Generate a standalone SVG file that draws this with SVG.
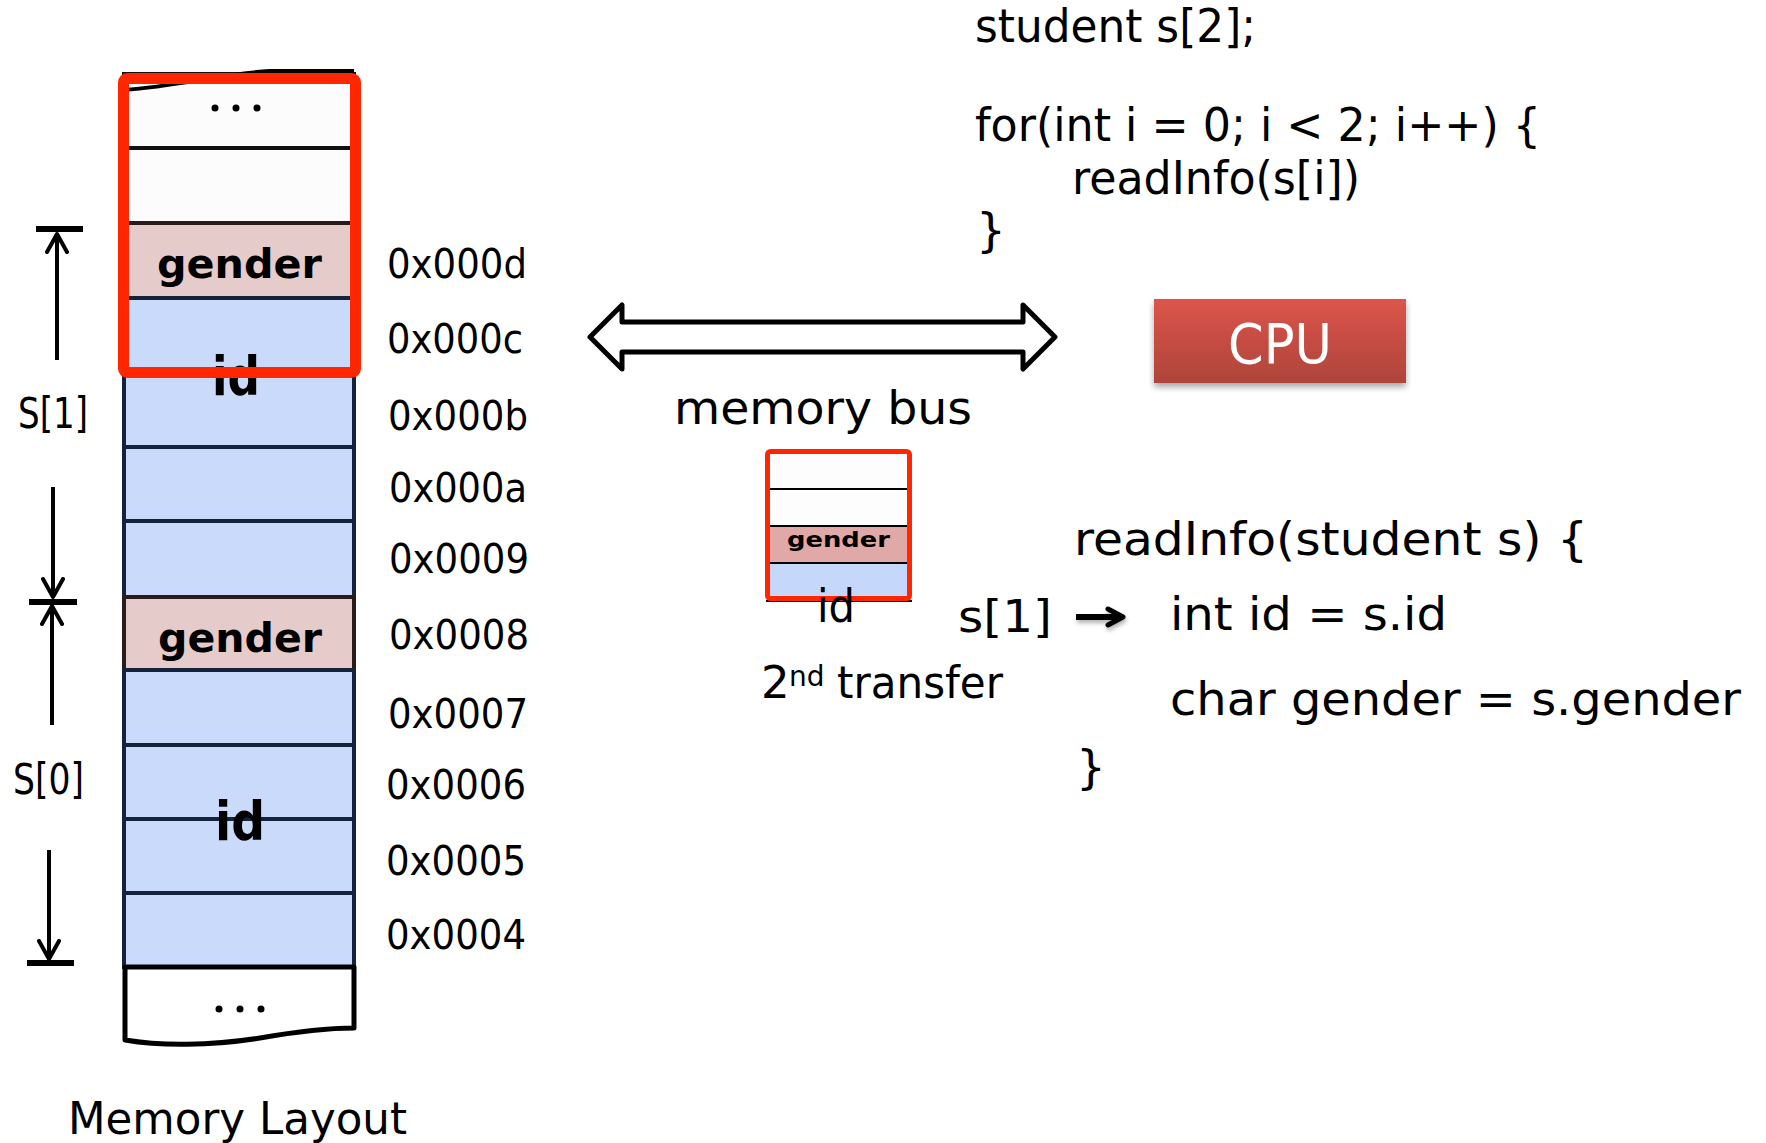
<svg xmlns="http://www.w3.org/2000/svg" width="1766" height="1143" viewBox="0 0 1766 1143">
<style>
  text { font-family: "DejaVu Sans", "Liberation Sans", sans-serif; fill: #000; }
  .addr { font-size: 41px; }
  .bold { font-weight: bold; }
  .code { font-size: 47px; }
  .cell-w { fill: #fcfcfc; stroke: #111; stroke-width: 4; }
  .cell-b { fill: #c9dafa; stroke: #15223c; stroke-width: 4; }
  .cell-g { fill: #e6cbcb; stroke: #2a1a1a; stroke-width: 4; }
  .dim { stroke: #000; stroke-width: 4; fill: none; }
  .bar { stroke: #000; stroke-width: 6; }
  .red { fill: none; stroke: #ff2600; stroke-width: 11; }
</style>
<defs>
  <marker id="chev" viewBox="0 0 24 24" refX="20" refY="12" markerWidth="24" markerHeight="24" markerUnits="userSpaceOnUse" orient="auto">
    <path d="M2,2 L20,12 L2,22" fill="none" stroke="#000" stroke-width="4" stroke-linecap="round" stroke-linejoin="round"/>
  </marker>
  <marker id="solid" viewBox="0 0 22 22" refX="16" refY="11" markerWidth="22" markerHeight="22" markerUnits="userSpaceOnUse" orient="auto">
    <path d="M3,3 L18,11 L3,19" fill="none" stroke="#000" stroke-width="5" stroke-linecap="round" stroke-linejoin="round"/>
  </marker>
  <linearGradient id="cpuGrad" x1="0" y1="0" x2="0" y2="1">
    <stop offset="0" stop-color="#dc554b"/>
    <stop offset="1" stop-color="#ae443b"/>
  </linearGradient>
  <filter id="shadow" x="-10%" y="-10%" width="120%" height="140%">
    <feDropShadow dx="0" dy="4" stdDeviation="3" flood-color="#000" flood-opacity="0.35"/>
  </filter>
  <filter id="softshadow" filterUnits="userSpaceOnUse" x="1060" y="590" width="90" height="60">
    <feDropShadow dx="1" dy="3" stdDeviation="2" flood-color="#000" flood-opacity="0.3"/>
  </filter>
</defs>

<rect width="1766" height="1143" fill="#fff"/>

<!-- Memory column -->
<g id="memory">
  <rect class="cell-w" x="124" y="74" width="230" height="74" stroke="none"/>
  <path d="M124,90 C180,86 220,74 270,71 L354,71" fill="none" stroke="#000" stroke-width="4"/>
  <rect class="cell-w" x="124" y="148" width="230" height="75"/>
  <rect class="cell-g" x="124" y="223" width="230" height="75"/>
  <rect class="cell-b" x="124" y="298" width="230" height="75"/>
  <rect class="cell-b" x="124" y="373" width="230" height="74"/>
  <rect class="cell-b" x="124" y="447" width="230" height="74"/>
  <rect class="cell-b" x="124" y="521" width="230" height="76"/>
  <rect class="cell-g" x="124" y="597" width="230" height="73"/>
  <rect class="cell-b" x="124" y="670" width="230" height="75"/>
  <rect class="cell-b" x="124" y="745" width="230" height="74"/>
  <rect class="cell-b" x="124" y="819" width="230" height="74"/>
  <rect class="cell-b" x="124" y="893" width="230" height="74"/>
  <path d="M125,967 L125,1040 C160,1046 210,1046 260,1038 C300,1031 330,1028 354,1028 L354,967 Z" fill="#fff" stroke="#000" stroke-width="5" stroke-linejoin="round"/>
  <g fill="#000">
    <circle cx="215" cy="108" r="3.5"/><circle cx="236" cy="108" r="3.5"/><circle cx="257" cy="108" r="3.5"/>
    <circle cx="219" cy="1009" r="3.5"/><circle cx="240" cy="1009" r="3.5"/><circle cx="261" cy="1009" r="3.5"/>
  </g>
  <text class="bold" x="157" y="278" font-size="41" textLength="165" lengthAdjust="spacingAndGlyphs">gender</text>
  <text class="bold" x="158" y="652" font-size="41" textLength="164" lengthAdjust="spacingAndGlyphs">gender</text>
  <text class="bold" x="212" y="395" font-size="54" textLength="48" lengthAdjust="spacingAndGlyphs">id</text>
  <text class="bold" x="215" y="840" font-size="54" textLength="50" lengthAdjust="spacingAndGlyphs">id</text>
  <rect class="red" x="123.5" y="78.5" width="232" height="294" rx="4"/>
</g>

<!-- Address labels -->
<g id="addresses">
  <text class="addr" x="387" y="278" textLength="140" lengthAdjust="spacingAndGlyphs">0x000d</text>
  <text class="addr" x="387" y="353" textLength="136" lengthAdjust="spacingAndGlyphs">0x000c</text>
  <text class="addr" x="388" y="430" textLength="140" lengthAdjust="spacingAndGlyphs">0x000b</text>
  <text class="addr" x="389" y="502" textLength="138" lengthAdjust="spacingAndGlyphs">0x000a</text>
  <text class="addr" x="389" y="573" textLength="140" lengthAdjust="spacingAndGlyphs">0x0009</text>
  <text class="addr" x="389" y="649" textLength="140" lengthAdjust="spacingAndGlyphs">0x0008</text>
  <text class="addr" x="388" y="728" textLength="140" lengthAdjust="spacingAndGlyphs">0x0007</text>
  <text class="addr" x="386" y="799" textLength="140" lengthAdjust="spacingAndGlyphs">0x0006</text>
  <text class="addr" x="386" y="875" textLength="140" lengthAdjust="spacingAndGlyphs">0x0005</text>
  <text class="addr" x="386" y="949" textLength="140" lengthAdjust="spacingAndGlyphs">0x0004</text>
</g>

<!-- Dimension markers -->
<g id="dimensions">
  <line class="bar" x1="36" y1="229" x2="83" y2="229"/>
  <line class="dim" x1="57" y1="360" x2="57" y2="234" marker-end="url(#chev)"/>
  <line class="dim" x1="53" y1="487" x2="53" y2="597" marker-end="url(#chev)"/>
  <line class="bar" x1="29" y1="602" x2="77" y2="602"/>
  <line class="dim" x1="52" y1="725" x2="52" y2="606" marker-end="url(#chev)"/>
  <line class="dim" x1="49" y1="850" x2="49" y2="959" marker-end="url(#chev)"/>
  <line class="bar" x1="27" y1="963" x2="74" y2="963"/>
  <text x="18" y="428" font-size="43" textLength="70" lengthAdjust="spacingAndGlyphs">S[1]</text>
  <text x="13" y="794" font-size="43" textLength="71" lengthAdjust="spacingAndGlyphs">S[0]</text>
  <text x="68" y="1134" font-size="44" textLength="339" lengthAdjust="spacingAndGlyphs">Memory Layout</text>
</g>

<!-- Memory bus -->
<g id="bus">
  <path d="M590,337 L622,305 L622,322 L1023,322 L1023,305 L1055,337 L1023,369 L1023,352 L622,352 L622,369 Z" fill="#fff" stroke="#000" stroke-width="5" stroke-linejoin="round"/>
  <text x="674" y="424" font-size="47" textLength="298" lengthAdjust="spacingAndGlyphs">memory bus</text>
</g>

<!-- Transfer box -->
<g id="transfer">
  <rect x="768" y="452" width="141" height="37" fill="#fdfdfd"/>
  <rect x="768" y="489" width="141" height="37" fill="#fdfdfd" stroke="#000" stroke-width="2"/>
  <rect x="768" y="526" width="141" height="37" fill="#e0a9a8" stroke="#000" stroke-width="2"/>
  <rect x="768" y="563" width="141" height="36" fill="#c5d8fb" stroke="#000" stroke-width="2"/>
  <text class="bold" x="787" y="547" font-size="21" textLength="103" lengthAdjust="spacingAndGlyphs">gender</text>
  <line x1="766" y1="601" x2="912" y2="601" stroke="#000" stroke-width="2"/>
  <rect x="767.5" y="451.5" width="142" height="147" rx="3" fill="none" stroke="#ff2600" stroke-width="5"/>
  <text x="817" y="622" font-size="46" textLength="38" lengthAdjust="spacingAndGlyphs">id</text>
  <text x="958" y="632" font-size="45" textLength="94" lengthAdjust="spacingAndGlyphs">s[1]</text>
  <text font-size="45"><tspan x="761" y="698">2</tspan><tspan x="789" y="686" font-size="28">nd</tspan><tspan x="837" y="698" textLength="166" lengthAdjust="spacingAndGlyphs">transfer</tspan></text>
</g>

<!-- CPU -->
<g id="cpu">
  <rect x="1154" y="299" width="252" height="84" fill="url(#cpuGrad)" filter="url(#shadow)"/>
  <text x="1228" y="363" font-size="55" style="fill:#fff" textLength="104" lengthAdjust="spacingAndGlyphs">CPU</text>
</g>

<!-- Code: main -->
<g id="code-main">
  <text class="code" x="975" y="42" textLength="281" lengthAdjust="spacingAndGlyphs">student s[2];</text>
  <text class="code" x="975" y="141" font-size="45" textLength="566" lengthAdjust="spacingAndGlyphs">for(int i = 0; i &lt; 2; i++) {</text>
  <text class="code" x="1072" y="194" font-size="45" textLength="288" lengthAdjust="spacingAndGlyphs">readInfo(s[i])</text>
  <text class="code" x="976" y="246">}</text>
</g>

<!-- Code: readInfo -->
<g id="code-readinfo">
  <text class="code" x="1074" y="555" font-size="48" textLength="514" lengthAdjust="spacingAndGlyphs">readInfo(student s) {</text>
  <text class="code" x="1170" y="630" font-size="48" textLength="277" lengthAdjust="spacingAndGlyphs">int id = s.id</text>
  <text class="code" x="1170" y="715" font-size="48" textLength="571" lengthAdjust="spacingAndGlyphs">char gender = s.gender</text>
  <text class="code" x="1076" y="783" font-size="48">}</text>
</g>

<!-- Connectors -->
<g id="connectors">
  <line x1="1076" y1="617" x2="1121" y2="617" stroke="#000" stroke-width="6" marker-end="url(#solid)" filter="url(#softshadow)"/>
</g>
</svg>
